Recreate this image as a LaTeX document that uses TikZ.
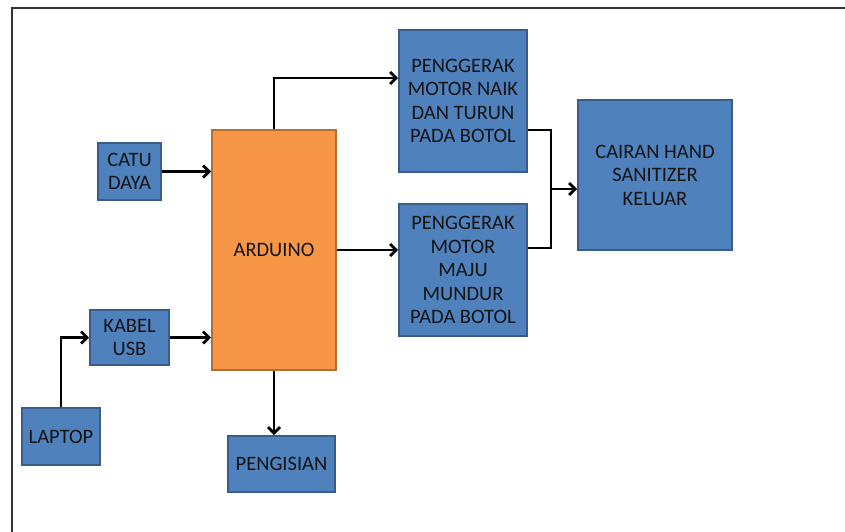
\documentclass[tikz,border=0pt]{standalone}
\usepackage{fontspec}
\setmainfont{Carlito}
\usetikzlibrary{arrows.meta}
\definecolor{kotak}{HTML}{4F81BD}
\definecolor{garis}{HTML}{385D8A}
\definecolor{jingga}{HTML}{F79646}
\definecolor{garisj}{HTML}{B66D31}
\definecolor{teks}{HTML}{141414}
\tikzset{
  blok/.style={draw=garis, fill=kotak, line width=2pt, text=teks, align=center,
    font=\fontsize{20.5}{23.5}\selectfont, inner sep=0pt},
  panah/.style={line width=2.8pt, -{Straight Barb[length=6pt,width=12pt,line width=2.8pt]}},
  sambung/.style={line width=2.8pt}
}
\begin{document}
\begin{tikzpicture}[x=1pt,y=-1pt] %Diagram blok hand sanitizer
            \useasboundingbox (0,0) rectangle (845,532);
            \draw[line width=1.5pt, black!80] (12,532) -- (12,8) -- (845,8);

            \node[blok, minimum width=63pt, minimum height=57pt] (catu) at (129.5,171.5) {CATU\\DAYA};
            \node[blok, draw=garisj, fill=jingga, minimum width=124pt, minimum height=240pt] (ard) at (274,250) {ARDUINO};
            \node[blok, minimum width=79pt, minimum height=55pt] (kabel) at (129.5,337.5) {KABEL\\USB};
            \node[blok, minimum width=78pt, minimum height=57pt] (laptop) at (61,436.5) {LAPTOP};
            \node[blok, minimum width=107pt, minimum height=56pt] (isi) at (281.5,464) {PENGISIAN};
            \node[blok, minimum width=128pt, minimum height=142pt] (motA) at (463,101) {PENGGERAK\\MOTOR NAIK\\DAN TURUN\\PADA BOTOL};
            \node[blok, minimum width=128pt, minimum height=132pt] (motB) at (463,270) {PENGGERAK\\MOTOR\\MAJU\\MUNDUR\\PADA BOTOL};
            \node[blok, minimum width=154pt, minimum height=150pt] (cairan) at (655,175) {CAIRAN HAND\\SANITIZER\\KELUAR};

            \coordinate (j) at (551,189);

            \draw[panah] (catu.east) -- (catu.east -| ard.west);
            \draw[panah] (kabel.east) -- (kabel.east -| ard.west);
            \draw[panah] (laptop.north) |- (kabel.west);
            \draw[panah] (ard.north) |- ([yshift=23pt]motA.west);
            \draw[panah] (ard.east) -- (ard.east -| motB.west);
            \draw[panah] (ard.south) -- (ard.south |- isi.north);
            \draw[sambung] ([yshift=-29pt]motA.east) -| (j);
            \draw[sambung] ([yshift=22pt]motB.east) -| (j);
            \draw[panah] (j) -- (j -| cairan.west);
        \end{tikzpicture}
\end{document}
